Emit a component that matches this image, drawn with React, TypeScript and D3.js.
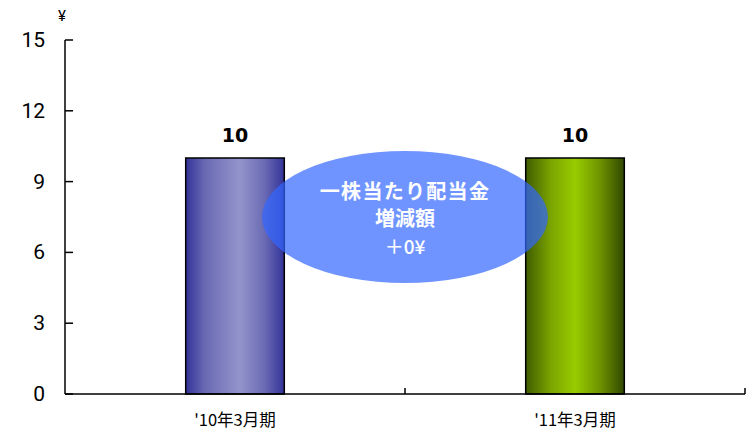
import React from "react";
import * as d3 from "d3";

const categories = ["'10年3月期", "'11年3月期"];
const values = [10, 10];
const yTicks = [0, 3, 6, 9, 12, 15];
const unitLabel = "¥";
const calloutLines = ["一株当たり配当金", "増減額", "＋0¥"];

const W = 747;
const H = 430;
const margin = { left: 65, right: 2, top: 40, bottom: 36 };

export default function App() {
  const x = d3
    .scaleBand<string>()
    .domain(categories)
    .range([margin.left, W - margin.right])
    .paddingInner(0.71)
    .paddingOuter(0.355);
  const band = d3.scaleBand<string>().domain(categories).range([margin.left, W - margin.right]);
  const y = d3.scaleLinear().domain([0, 15]).range([H - margin.bottom, margin.top]);

  const gradIds = ["gradBlue", "gradGreen"];
  const cx = (band(categories[0])! + band.bandwidth() + band(categories[1])!) / 2;
  const cy = y(7.5);
  const cjk = "'Noto Sans CJK JP', 'Noto Sans', sans-serif";

  return (
    <svg width={W} height={H} style={{ position: "absolute", left: 0, top: 0, background: "#fff" }}>
      <defs>
        <linearGradient id="gradBlue" x1="0" x2="1" y1="0" y2="0">
          <stop offset="0" stopColor="#333399" />
          <stop offset="0.2" stopColor="#6a6ab4" />
          <stop offset="0.55" stopColor="#9494cc" />
          <stop offset="0.8" stopColor="#6a6ab4" />
          <stop offset="1" stopColor="#333399" />
        </linearGradient>
        <linearGradient id="gradGreen" x1="0" x2="1" y1="0" y2="0">
          <stop offset="0" stopColor="#3f5c00" />
          <stop offset="0.25" stopColor="#7aa300" />
          <stop offset="0.5" stopColor="#99cc00" />
          <stop offset="0.75" stopColor="#6f9400" />
          <stop offset="1" stopColor="#304800" />
        </linearGradient>
      </defs>

      {/* Y axis */}
      <line x1={margin.left} x2={margin.left} y1={y(15)} y2={y(0)} stroke="#000" strokeWidth={1.5} />
      {yTicks.map((t) => (
        <g key={t}>
          <line x1={margin.left} x2={margin.left + 8} y1={y(t)} y2={y(t)} stroke="#000" strokeWidth={1.5} />
          <text
            x={45}
            y={y(t)}
            textAnchor="end"
            dominantBaseline="central"
            fontSize={21}
            fontFamily="Roboto, sans-serif"
            fill="#000"
          >
            {t}
          </text>
        </g>
      ))}
      <text x={62} y={16} textAnchor="middle" dominantBaseline="central" fontSize={15} fontFamily="Roboto, sans-serif">
        {unitLabel}
      </text>

      {/* Bars */}
      {categories.map((c, i) => (
        <g key={c}>
          <rect
            x={x(c)}
            y={y(values[i])}
            width={x.bandwidth()}
            height={y(0) - y(values[i])}
            fill={`url(#${gradIds[i]})`}
            stroke="#000"
            strokeWidth={1.5}
          />
          <text
            x={x(c)! + x.bandwidth() / 2}
            y={y(values[i]) - 23}
            textAnchor="middle"
            dominantBaseline="central"
            fontSize={19}
            fontWeight="bold"
            fontFamily="'DejaVu Sans', sans-serif"
          >
            {values[i]}
          </text>
          <text
            x={x(c)! + x.bandwidth() / 2}
            y={419}
            textAnchor="middle"
            dominantBaseline="central"
            fontSize={16.5}
            fontFamily={cjk}
          >
            {c}
          </text>
        </g>
      ))}

      {/* X axis */}
      <line x1={margin.left} x2={W - margin.right} y1={y(0)} y2={y(0)} stroke="#000" strokeWidth={1.5} />
      {categories.map((c) => (
        <line
          key={c}
          x1={band(c)! + band.bandwidth()}
          x2={band(c)! + band.bandwidth()}
          y1={y(0)}
          y2={y(0) - 6}
          stroke="#000"
          strokeWidth={1.5}
        />
      ))}

      {/* Callout */}
      <ellipse cx={cx} cy={cy} rx={143} ry={66} fill="#3366ff" fillOpacity={0.7} />
      {calloutLines.map((l, i) => (
        <text
          key={i}
          x={cx}
          y={cy - 27 + i * 27.5}
          textAnchor="middle"
          dominantBaseline="central"
          fontSize={i === 2 ? 19 : 20}
          fontWeight={i === 2 ? 500 : "bold"}
          letterSpacing={i === 0 ? 1.3 : 0}
          fontFamily={cjk}
          fill="#fff"
        >
          {l}
        </text>
      ))}
    </svg>
  );
}
